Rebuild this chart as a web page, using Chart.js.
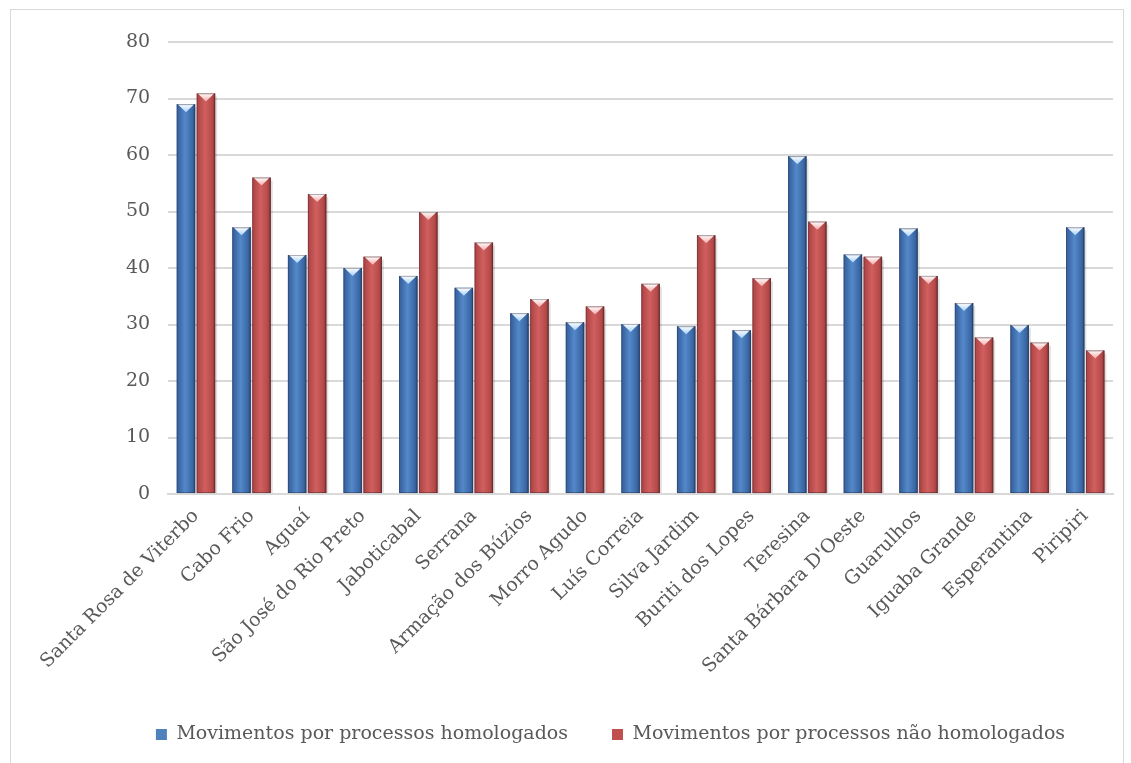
<!DOCTYPE html>
<html>
<head>
<meta charset="utf-8">
<script src="https://cdn.jsdelivr.net/npm/chart.js@4.4.1/dist/chart.umd.min.js"></script>
<style>
  body { margin: 0; background: #fff; }
  #wrap { position: relative; width: 1131px; height: 763px; }
  #frame { position: absolute; left: 10px; top: 9px; width: 1112px; height: 760px; border: 1px solid #d9d9d9; border-bottom: none; }
  canvas { position: absolute; left: 0; top: 0; }
</style>
</head>
<body>
<div id="wrap">
  <div id="frame"></div>
  <canvas id="barChart" width="1131" height="763"></canvas>
</div>
<script>
var cidades = ["Santa Rosa de Viterbo", "Cabo Frio", "Aguaí", "São José do Rio Preto", "Jaboticabal", "Serrana",
  "Armação dos Búzios", "Morro Agudo", "Luís Correia", "Silva Jardim", "Buriti dos Lopes", "Teresina",
  "Santa Bárbara D'Oeste", "Guarulhos", "Iguaba Grande", "Esperantina", "Piripiri"];

var homologados = [69.0, 47.2, 42.3, 40.0, 38.6, 36.5, 32.0, 30.4, 30.1, 29.7, 29.0, 59.8, 42.4, 47.0, 33.8, 29.9, 47.2];
var naoHomologados = [70.9, 56.0, 53.1, 42.0, 49.9, 44.5, 34.5, 33.2, 37.2, 45.8, 38.2, 48.2, 42.0, 38.6, 27.7, 26.8, 25.4];

var yTicks = [0, 10, 20, 30, 40, 50, 60, 70, 80];

var serif = "'DejaVu Serif', 'Liberation Serif', serif";

// cores do estilo "bisel" (esquerda, meio, direita, topo)
var paleta = [
  { edge: '#3b67a5', mid: '#5489c9', dark: '#2c4c7c', cap: '#a9d2fa', base: '#4f81bd' },
  { edge: '#b5494a', mid: '#d0605e', dark: '#823432', cap: '#f6aaa8', base: '#c0504d' }
];

function fillBar(ctx, x0, x1, top, bottom, p) {
  var g = ctx.createLinearGradient(x0, 0, x1, 0);
  g.addColorStop(0, p.edge);
  g.addColorStop(0.12, p.edge);
  g.addColorStop(0.45, p.mid);
  g.addColorStop(0.85, p.edge);
  g.addColorStop(1, p.dark);
  ctx.fillStyle = g;
  ctx.fillRect(x0, top, x1 - x0, bottom - top);
}

var bevelPlugin = {
  id: 'bevel',
  afterDatasetsDraw: function(chart) {
    var ctx = chart.ctx;
    ctx.save();
    chart.data.datasets.forEach(function(ds, di) {
      var p = paleta[di];
      chart.getDatasetMeta(di).data.forEach(function(bar) {
        var x0 = bar.x - bar.width / 2, x1 = bar.x + bar.width / 2;
        var top = bar.y, bottom = bar.base;
        // sombra
        ctx.fillStyle = 'rgba(0,0,0,0.12)';
        ctx.fillRect(x1, top + 3, 2, bottom - top - 3);
        fillBar(ctx, x0, x1, top, bottom, p);
        // topo chanfrado
        var h = Math.min(8, bottom - top);
        var g = ctx.createLinearGradient(0, top, 0, top + h);
        g.addColorStop(0, '#ffffff');
        g.addColorStop(1, p.cap);
        ctx.fillStyle = g;
        ctx.beginPath();
        ctx.moveTo(x0 + 1, top);
        ctx.lineTo(x1 - 1, top);
        ctx.lineTo(bar.x, top + h);
        ctx.closePath();
        ctx.fill();
        ctx.strokeStyle = 'rgba(30,30,40,0.35)';
        ctx.lineWidth = 1;
        ctx.strokeRect(x0 + 0.5, top + 0.5, x1 - x0 - 1, bottom - top - 1);
      });
    });
    ctx.restore();
  }
};

var ctxB = document.getElementById("barChart").getContext('2d');
var myBarChart = new Chart(ctxB, {
  type: 'bar',
  data: {
    labels: cidades,
    datasets: [{
        label: "Movimentos por processos homologados",
        data: homologados,
        backgroundColor: paleta[0].base,
        borderWidth: 0
      },
      {
        label: "Movimentos por processos não homologados",
        data: naoHomologados,
        backgroundColor: paleta[1].base,
        borderWidth: 0
      }
    ]
  },
  options: {
    responsive: false,
    animation: false,
    datasets: {
      bar: { categoryPercentage: 0.72, barPercentage: 0.92 }
    },
    layout: {
      padding: { left: 108, right: 18, top: 42, bottom: 9 }
    },
    scales: {
      x: {
        grid: { display: false },
        border: { display: true, color: '#d9d9d9', width: 2 },
        ticks: {
          color: '#595959',
          font: { family: serif, size: 19 },
          maxRotation: 45,
          minRotation: 45,
          padding: 3,
          autoSkip: false
        }
      },
      y: {
        min: 0,
        max: 80,
        afterBuildTicks: function(axis) {
          axis.ticks = yTicks.map(function(v) { return { value: v }; });
        },
        grid: { color: '#d9d9d9', lineWidth: 2, drawTicks: false },
        border: { display: false },
        ticks: {
          color: '#595959',
          font: { family: serif, size: 19 },
          padding: 18
        }
      }
    },
    plugins: {
      tooltip: { enabled: false },
      legend: {
        position: 'bottom',
        labels: {
          color: '#595959',
          font: { family: serif, size: 19 },
          boxWidth: 11,
          boxHeight: 11,
          padding: 44
        }
      }
    }
  },
  plugins: [bevelPlugin]
});
</script>
</body>
</html>
